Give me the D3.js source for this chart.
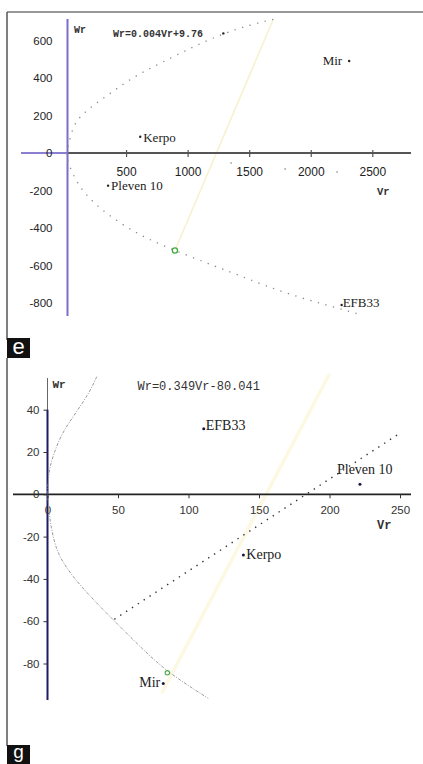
<!DOCTYPE html>
<html>
<head>
<meta charset="utf-8">
<script src="https://cdn.jsdelivr.net/npm/d3@7"></script>
<style>
  body { margin: 0; background: #fff; }
  svg { display: block; }
</style>
</head>
<body>
<div id="chart"></div>
<script>
// ---- panel e data ----
var eXTicks = [500, 1000, 1500, 2000, 2500];
var eYTicks = [600, 400, 200, 0, -200, -400, -600, -800];
var ePoints = [
    {name: "Kerpo", vr: 615, wr: 87},
    {name: "Pleven 10", vr: 354, wr: -174},
    {name: "Mir", vr: 2312, wr: 491},
    {name: "EFB33", vr: 2251, wr: -811},
    {name: "", vr: 1290, wr: 638}
];
var eCurve = [
    [1696, 713], [1506, 683], [1290, 638], [1046, 567], [776, 478], [559, 406],
    [370, 318], [180, 229], [71, 158], [31, 34], [12, -10], [31, -55], [99, -162],
    [234, -269], [451, -376], [668, -457], [897, -520], [1263, -615], [1371, -640],
    [1615, -704], [1886, -766], [2156, -816], [2414, -864]
];
var eYellow = [[897, -520], [1696, 713]];
var eCircle = [897, -520];
var eStray = [[1353, -53], [1792, -85], [2214, -101]];

// ---- panel g data ----
var gXTicks = [0, 50, 100, 150, 200, 250];
var gYTicks = [40, 20, 0, -20, -40, -60, -80];
var gPoints = [
    {name: "EFB33", vr: 110.8, wr: 31.0},
    {name: "Pleven 10", vr: 221.6, wr: 4.7},
    {name: "Kerpo", vr: 138.9, wr: -28.7},
    {name: "Mir", vr: 82.1, wr: -89.4}
];
var gCurve = [
    [34.9, 55.6], [30.1, 48.5], [20.7, 39.1], [10, 28.8], [4.1, 18.6], [0.8, 10.9],
    [0, 0], [1.2, -10], [3.5, -19], [7.7, -29.5], [20.7, -41.3], [34.9, -51.5],
    [49.1, -61], [65.6, -72], [84.5, -83.9], [114, -96.5]
];
var gLine = [[47.4, -59.1], [248.8, 28.4]];
var gYellow = [[81, -94], [200, 57]];
var gCircle = [85, -84.4];

var width = 423, height = 764;

var svg = d3.select("#chart").append("svg")
    .attr("width", width)
    .attr("height", height);

// frame + panel letters
svg.append("line").attr("x1", 7).attr("x2", 423).attr("y1", 12).attr("y2", 12)
    .attr("stroke", "#777").attr("stroke-width", 1.5);
svg.append("line").attr("x1", 7).attr("x2", 7).attr("y1", 12).attr("y2", 340)
    .attr("stroke", "#555").attr("stroke-width", 1.5);
svg.append("line").attr("x1", 7).attr("x2", 7).attr("y1", 358).attr("y2", 746)
    .attr("stroke", "#555").attr("stroke-width", 1.5);

[["e", 338, 22, 16], ["g", 745, 19, 13]].forEach(function (b) {
    svg.append("rect").attr("x", 7).attr("y", b[1]).attr("width", 23).attr("height", 20).attr("fill", "#111");
    svg.append("text").attr("x", 18.5).attr("y", b[1] + b[3]).attr("text-anchor", "middle")
        .attr("font-family", "Liberation Sans, Arial, sans-serif").attr("font-size", b[2])
        .attr("fill", "#fff").text(b[0]);
});

var mono = "Liberation Mono, Courier New, monospace";
var serif = "Liberation Serif, Times New Roman, serif";
var sans = "Liberation Sans, Arial, sans-serif";

// ================= panel e =================
var xE = d3.scaleLinear().domain([0, 2500]).range([64.5, 372.3]);
var yE = d3.scaleLinear().domain([0, 600]).range([153, 40.5]);
var eAxisX = xE(0) + 3;

var e = svg.append("g");

// yellow faint line
e.append("path")
    .attr("d", d3.line().x(d => xE(d[0])).y(d => yE(d[1]))(eYellow))
    .attr("stroke", "#f6f1cc").attr("stroke-width", 1.5).attr("fill", "none");

// x axis line
e.append("line").attr("x1", 21).attr("x2", eAxisX).attr("y1", yE(0)).attr("y2", yE(0))
    .attr("stroke", "#8a7fd0").attr("stroke-width", 2);
e.append("line").attr("x1", eAxisX).attr("x2", 411).attr("y1", yE(0)).attr("y2", yE(0))
    .attr("stroke", "#555").attr("stroke-width", 1.8);

var exAxis = e.append("g")
    .attr("transform", "translate(0," + (yE(0) - 3) + ")")
    .call(d3.axisBottom(xE).tickValues(eXTicks).tickSize(7).tickPadding(10).tickFormat(d => String(d)));
exAxis.select(".domain").remove();
exAxis.selectAll("line").attr("stroke", "#555").attr("stroke-width", 1.2);
exAxis.selectAll("text").attr("font-family", sans).attr("font-size", 12).attr("fill", "#222");

var eyAxis = e.append("g")
    .attr("transform", "translate(" + eAxisX + ",0)")
    .call(d3.axisLeft(yE).tickValues(eYTicks).tickSize(0).tickPadding(15).tickFormat(d => String(d)));
eyAxis.select(".domain").remove();
eyAxis.selectAll("text").attr("font-family", sans).attr("font-size", 11.5).attr("fill", "#222");

// y axis line (purple)
e.append("line").attr("x1", eAxisX).attr("x2", eAxisX).attr("y1", 19).attr("y2", 316)
    .attr("stroke", "#7d6cc9").attr("stroke-width", 2);

// dotted fitted curve
e.append("path")
    .attr("d", d3.line().x(d => xE(d[0])).y(d => yE(d[1])).curve(d3.curveBasis)(eCurve))
    .attr("fill", "none").attr("stroke", "#8a8a8a").attr("stroke-width", 1.3)
    .attr("stroke-dasharray", "1.3,6.5");

e.selectAll(".stray").data(eStray).join("circle")
    .attr("cx", d => xE(d[0])).attr("cy", d => yE(d[1])).attr("r", 0.8).attr("fill", "#777");

// green circle
e.append("circle").attr("cx", xE(eCircle[0])).attr("cy", yE(eCircle[1])).attr("r", 2.6)
    .attr("fill", "#fff").attr("stroke", "#3cab3c").attr("stroke-width", 1.3);

// points
e.selectAll(".pt").data(ePoints).join("circle")
    .attr("cx", d => xE(d.vr)).attr("cy", d => yE(d.wr)).attr("r", 1.2).attr("fill", "#222");

var eLab = {
    "Kerpo": [3, 5, "start"], "Pleven 10": [3, 4, "start"],
    "Mir": [-7, 4, "end"], "EFB33": [1, 2, "start"]
};
e.selectAll(".lab").data(ePoints.filter(d => d.name)).join("text")
    .attr("x", d => xE(d.vr) + eLab[d.name][0])
    .attr("y", d => yE(d.wr) + eLab[d.name][1])
    .attr("text-anchor", d => eLab[d.name][2])
    .attr("font-family", serif).attr("font-size", 13).attr("fill", "#222")
    .text(d => d.name);

e.append("text").attr("x", 74).attr("y", 33).attr("font-family", mono).attr("font-size", 10)
    .attr("font-weight", "bold").attr("fill", "#333").text("Wr");
e.append("text").attr("x", 113).attr("y", 37).attr("font-family", mono).attr("font-size", 10)
    .attr("font-weight", "bold").attr("fill", "#333").text("Wr=0.004Vr+9.76");
e.append("text").attr("x", 377).attr("y", 195).attr("font-family", mono).attr("font-size", 10.5)
    .attr("font-weight", "bold").attr("fill", "#333").text("Vr");

// ================= panel g =================
var xG = d3.scaleLinear().domain([0, 250]).range([47.5, 400]);
var yG = d3.scaleLinear().domain([0, 40]).range([494.3, 409.7]);

var g = svg.append("g");

g.append("path")
    .attr("d", d3.line().x(d => xG(d[0])).y(d => yG(d[1]))(gYellow))
    .attr("stroke", "#fdf8e2").attr("stroke-width", 3.5).attr("fill", "none");

// axes lines
g.append("line").attr("x1", 13).attr("x2", 411).attr("y1", yG(0)).attr("y2", yG(0))
    .attr("stroke", "#222").attr("stroke-width", 1.8);
g.append("line").attr("x1", xG(0)).attr("x2", xG(0)).attr("y1", 378).attr("y2", 700)
    .attr("stroke", "#666").attr("stroke-width", 1);
g.append("line").attr("x1", xG(0)).attr("x2", xG(0)).attr("y1", yG(40)).attr("y2", 700)
    .attr("stroke", "#1c1c66").attr("stroke-width", 2);

var gxAxis = g.append("g")
    .attr("transform", "translate(0," + yG(0) + ")")
    .call(d3.axisBottom(xG).tickValues(gXTicks).tickSize(4).tickPadding(8).tickFormat(d => String(d)));
gxAxis.select(".domain").remove();
gxAxis.selectAll("line").attr("stroke", "#333");
gxAxis.selectAll("text").attr("font-family", sans).attr("font-size", 11.5).attr("fill", "#333");

var gyAxis = g.append("g")
    .attr("transform", "translate(" + xG(0) + ",0)")
    .call(d3.axisLeft(yG).tickValues(gYTicks).tickSize(4).tickPadding(4).tickFormat(d => String(d)));
gyAxis.select(".domain").remove();
gyAxis.selectAll("line").attr("stroke", "#333");
gyAxis.selectAll("text").attr("font-family", sans).attr("font-size", 11.5).attr("fill", "#333");

// fitted curve (dash-dot gray)
g.append("path")
    .attr("d", d3.line().x(d => xG(d[0])).y(d => yG(d[1])).curve(d3.curveBasis)(gCurve))
    .attr("fill", "none").attr("stroke", "#9a9a9a").attr("stroke-width", 1)
    .attr("stroke-dasharray", "3,1.5,1,1.5");

// dotted regression line
g.append("path")
    .attr("d", d3.line().x(d => xG(d[0])).y(d => yG(d[1]))(gLine))
    .attr("fill", "none").attr("stroke", "#333").attr("stroke-width", 1.4)
    .attr("stroke-dasharray", "1.4,5.6");

g.append("circle").attr("cx", xG(gCircle[0])).attr("cy", yG(gCircle[1])).attr("r", 2.2)
    .attr("fill", "#fff").attr("stroke", "#4aa84a").attr("stroke-width", 1.1);

g.selectAll(".pt").data(gPoints).join("circle")
    .attr("cx", d => xG(d.vr)).attr("cy", d => yG(d.wr)).attr("r", 1.5).attr("fill", "#1a1a40");

var gLab = {
    "EFB33": [2, 1, "start"], "Pleven 10": [-23, -10, "start"],
    "Kerpo": [3, 4, "start"], "Mir": [-3, 4, "end"]
};
g.selectAll(".lab").data(gPoints).join("text")
    .attr("x", d => xG(d.vr) + gLab[d.name][0])
    .attr("y", d => yG(d.wr) + gLab[d.name][1])
    .attr("text-anchor", d => gLab[d.name][2])
    .attr("font-family", serif).attr("font-size", 14).attr("fill", "#222")
    .text(d => d.name);

g.append("text").attr("x", 52.5).attr("y", 388).attr("font-family", mono).attr("font-size", 11)
    .attr("font-weight", "bold").attr("fill", "#333").text("Wr");
g.append("text").attr("x", 137.5).attr("y", 389.5).attr("font-family", mono).attr("font-size", 12)
    .attr("fill", "#333").text("Wr=0.349Vr-80.041");
g.append("text").attr("x", 377).attr("y", 529).attr("font-family", mono).attr("font-size", 12)
    .attr("font-weight", "bold").attr("fill", "#333").text("Vr");
</script>
</body>
</html>
